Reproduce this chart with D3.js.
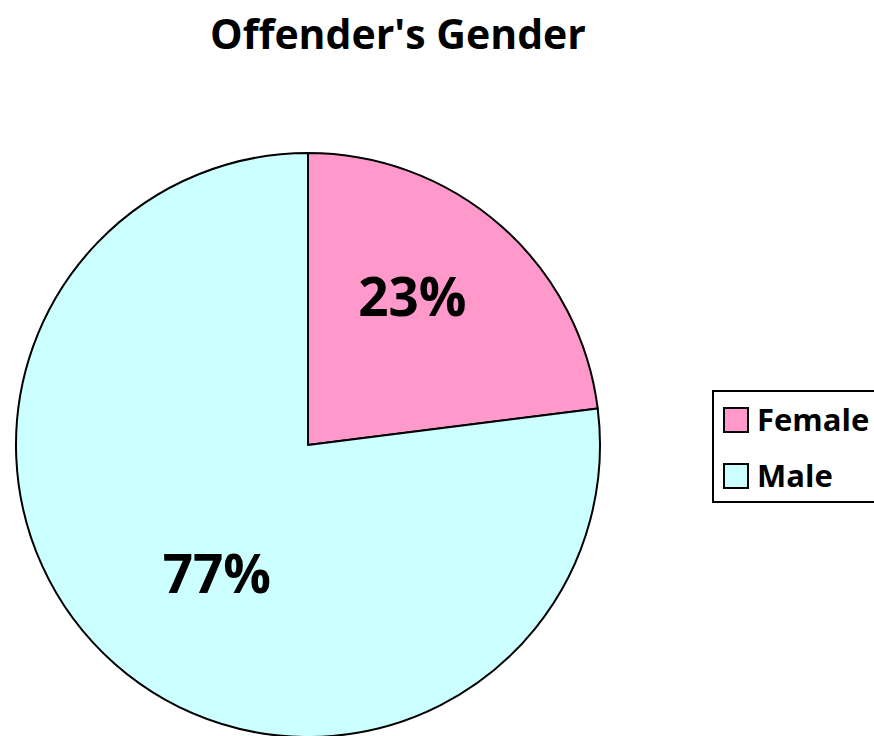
<!DOCTYPE html>
<html>
<head>
<meta charset="utf-8">
<script src="https://cdn.jsdelivr.net/npm/d3@7"></script>
<style>
  body { margin: 0; background: #fff; }
  svg { display: block; font-family: "Open Sans", sans-serif; }
</style>
</head>
<body>
<div id="chart"></div>
<script>
const categories = ["Female", "Male"];
const values = [23, 77];
const labels = ["23%", "77%"];
const colors = ["#ff99cc", "#ccffff"];

const width = 874, height = 736;
const cx = 308, cy = 445, radius = 292;

const svg = d3.select("#chart").append("svg")
    .attr("width", width)
    .attr("height", height);

svg.append("text")
    .attr("x", 398)
    .attr("y", 49)
    .attr("text-anchor", "middle")
    .style("font-size", "41px")
    .style("font-weight", "bold")
    .text("Offender's Gender");

const data = categories.map((c, i) => ({ name: c, value: values[i], label: labels[i], color: colors[i] }));

const pie = d3.pie().value(d => d.value).sort(null);
const arc = d3.arc().innerRadius(0).outerRadius(radius);

const g = svg.append("g").attr("transform", `translate(${cx},${cy})`);

const slices = pie(data);

g.selectAll("path")
    .data(slices)
    .enter()
    .append("path")
    .attr("d", arc)
    .attr("fill", d => d.data.color)
    .attr("stroke", "#000")
    .attr("stroke-width", 2)
    .attr("stroke-linejoin", "round");

// labels sit a little counter-clockwise of the slice middle, like the original
const labelR = [181, 158];
const labelPos = (d, i) => {
    const a = (d.startAngle + d.endAngle) / 2 - 0.108;
    return [Math.sin(a) * labelR[i], -Math.cos(a) * labelR[i]];
};

g.selectAll(".lbl")
    .data(slices)
    .enter()
    .append("text")
    .attr("class", "lbl")
    .attr("transform", (d, i) => `translate(${labelPos(d, i)})`)
    .attr("text-anchor", "middle")
    .attr("dy", "0.36em")
    .style("font-size", "53px")
    .style("font-weight", "bold")
    .text(d => d.data.label);

// legend
const legend = svg.append("g").attr("transform", "translate(713,391)");

legend.append("rect")
    .attr("x", 0)
    .attr("y", 0)
    .attr("width", 180)
    .attr("height", 111)
    .attr("fill", "#fff")
    .attr("stroke", "#000")
    .attr("stroke-width", 2);

const items = legend.selectAll(".item")
    .data(data)
    .enter()
    .append("g")
    .attr("class", "item")
    .attr("transform", (d, i) => `translate(11,${17 + i * 56})`);

items.append("rect")
    .attr("width", 24)
    .attr("height", 24)
    .attr("fill", d => d.color)
    .attr("stroke", "#000")
    .attr("stroke-width", 2);

items.append("text")
    .attr("x", 33)
    .attr("y", 12)
    .attr("dy", "0.36em")
    .style("font-size", "31px")
    .style("font-weight", "bold")
    .text(d => d.name);
</script>
</body>
</html>
